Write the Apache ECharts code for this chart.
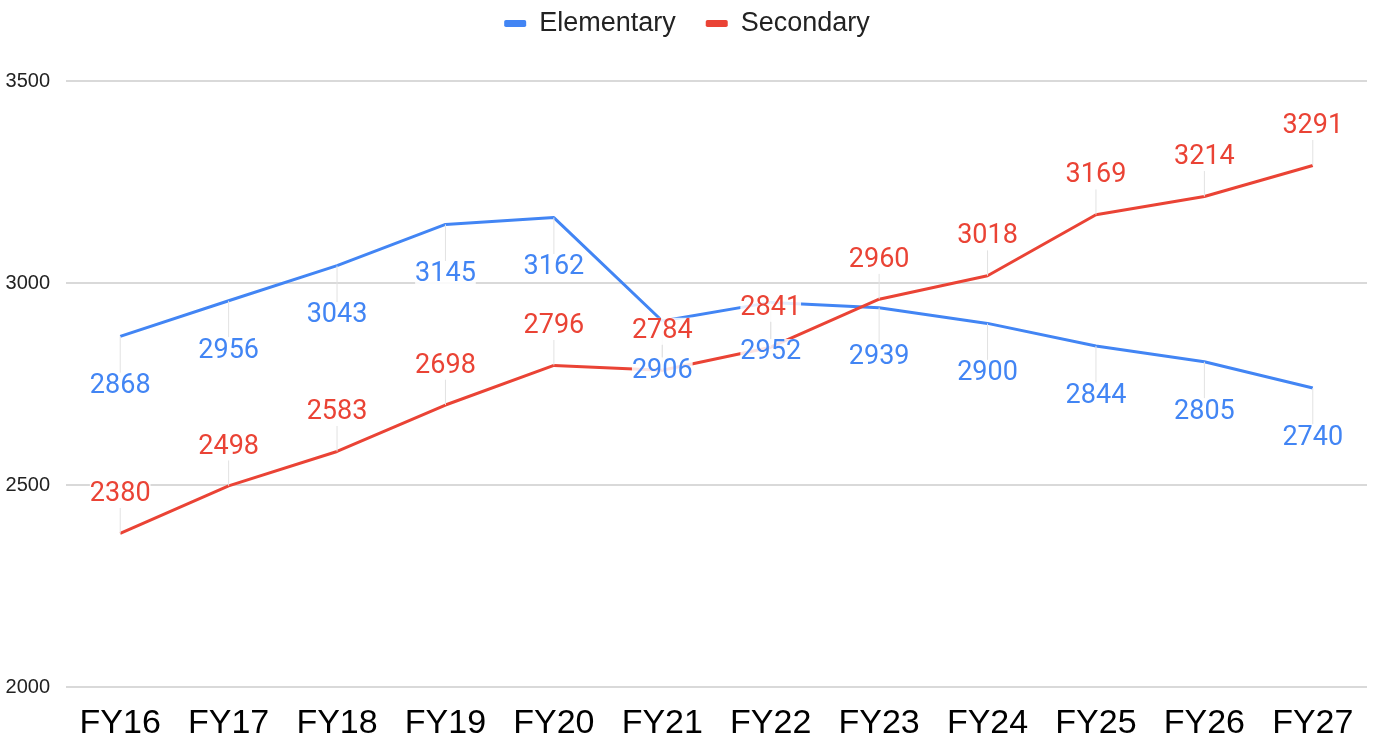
<!DOCTYPE html>
<html>
<head>
<meta charset="utf-8">
<script src="https://cdn.jsdelivr.net/npm/echarts@6/dist/echarts.min.js"></script>
<style>
  html, body { margin: 0; padding: 0; background: #fff; }
  #chart { width: 1374px; height: 744px; }
</style>
</head>
<body>
<div id="chart"></div>
<script>
// Fiscal years along the bottom axis
const years = ['FY16', 'FY17', 'FY18', 'FY19', 'FY20', 'FY21', 'FY22', 'FY23', 'FY24', 'FY25', 'FY26', 'FY27'];
// Enrollment per level
const elementary = [2868, 2956, 3043, 3145, 3162, 2906, 2952, 2939, 2900, 2844, 2805, 2740];
const secondary = [2380, 2498, 2583, 2698, 2796, 2784, 2841, 2960, 3018, 3169, 3214, 3291];
// Value axis range and step
const yMin = 2000, yMax = 3500, yStep = 500;

const BLUE = '#4285F4';
const RED = '#EA4335';

function lineSeries(name, data, color, dy) {
  return {
    name: name,
    type: 'line',
    data: data,
    symbol: 'circle',
    symbolSize: 0.1,
    showSymbol: true,
    lineStyle: { color: color, width: 3 },
    itemStyle: { color: color },
    label: {
      show: true,
      position: 'inside',
      color: color,
      fontFamily: 'Roboto',
      fontSize: 27,
      backgroundColor: 'rgba(255,255,255,0.85)'
    },
    labelLayout: { dy: dy },
    labelLine: { show: true, lineStyle: { color: '#e2e2e2', width: 1 } },
    emphasis: { disabled: true }
  };
}

const chart = echarts.init(document.getElementById('chart'), null, { renderer: 'canvas' });
chart.setOption({
  animation: false,
  backgroundColor: '#ffffff',
  legend: {
    top: 5,
    left: 'center',
    icon: 'roundRect',
    itemWidth: 22,
    itemHeight: 7,
    itemGap: 30,
    textStyle: {
      fontFamily: 'Liberation Sans, Arial',
      fontSize: 27,
      color: '#222222',
      padding: [0, 0, 0, 8]
    },
    data: ['Elementary', 'Secondary']
  },
  grid: { left: 66, right: 7, top: 81, bottom: 57, containLabel: false },
  xAxis: {
    type: 'category',
    data: years,
    boundaryGap: true,
    axisLine: { show: false },
    axisTick: { show: false },
    axisLabel: {
      margin: 20,
      fontFamily: 'Liberation Sans, Arial',
      fontSize: 34,
      color: '#000000'
    }
  },
  yAxis: {
    type: 'value',
    min: yMin,
    max: yMax,
    interval: yStep,
    axisLine: { show: false },
    axisTick: { show: false },
    splitLine: { lineStyle: { color: '#cccccc', width: 1.5 } },
    axisLabel: {
      margin: 16,
      fontFamily: 'Liberation Sans, Arial',
      fontSize: 20,
      color: '#222222',
      formatter: function (v) { return String(v); }
    }
  },
  series: [
    lineSeries('Elementary', elementary, BLUE, 50),
    lineSeries('Secondary', secondary, RED, -39)
  ]
});
</script>
</body>
</html>
